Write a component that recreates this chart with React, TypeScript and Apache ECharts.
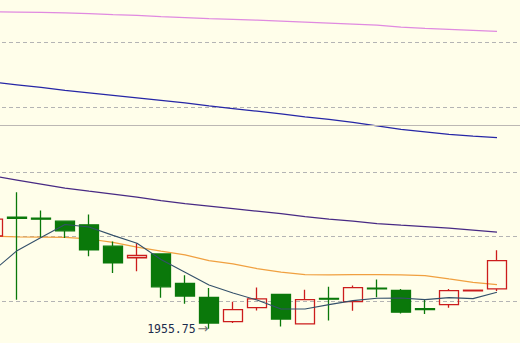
import React, { useEffect, useRef } from "react";
import * as echarts from "echarts";

const categories = [
  "D01", "D02", "D03", "D04", "D05", "D06", "D07", "D08", "D09", "D10", "D11",
  "D12", "D13", "D14", "D15", "D16", "D17", "D18", "D19", "D20", "D21", "D22", "D23",
];

const opens = [
  1970.1, 1973.0, 1972.85, 1972.4, 1971.83, 1968.53, 1966.74, 1967.32, 1962.79, 1960.62, 1956.85,
  1959.02, 1961.09, 1956.51, 1960.45, 1959.97, 1962.02, 1961.71, 1958.85, 1959.49, 1961.62, 1961.94,
];
const closes = [
  1972.7, 1972.85, 1972.7, 1970.9, 1967.95, 1965.94, 1967.09, 1962.25, 1960.82, 1956.64, 1958.71,
  1960.39, 1957.26, 1960.26, 1960.33, 1962.12, 1961.92, 1958.33, 1958.74, 1961.67, 1961.72, 1966.31,
];
const lows = [
  1969.6, 1960.26, 1969.92, 1969.8, 1966.98, 1964.39, 1964.65, 1960.54, 1959.64, 1955.75, 1956.64,
  1958.6, 1956.12, 1956.51, 1957.02, 1958.56, 1960.62, 1958.11, 1958.06, 1958.99, 1961.62, 1961.58,
];
const highs = [
  1973.2, 1976.85, 1974.06, 1972.4, 1973.44, 1969.26, 1968.99, 1967.32, 1964.03, 1962.06, 1959.95,
  1962.12, 1961.09, 1961.78, 1962.25, 1962.43, 1963.38, 1961.91, 1960.36, 1961.91, 1961.72, 1967.91,
];

const maFast = [
  1964.68, 1967.83, 1969.88, 1971.89, 1971.5, 1970.2, 1968.99, 1966.47, 1964.5, 1962.53, 1961.29,
  1960.2, 1958.81, 1958.81, 1959.49, 1960.11, 1960.47, 1960.51, 1960.26, 1960.57, 1960.42, 1961.4,
];
const maOrange = [
  1970.08, 1969.95, 1969.92, 1969.89, 1969.64, 1969.1, 1968.37, 1967.75, 1967.18, 1966.31, 1965.78,
  1965.07, 1964.5, 1964.14, 1964.08, 1964.14, 1964.14, 1964.08, 1963.98, 1963.46, 1962.95, 1962.59,
];
const maPurple = [
  1979.38, 1978.76, 1978.14, 1977.52, 1977.05, 1976.59, 1976.12, 1975.58, 1975.12, 1974.73, 1974.34,
  1973.95, 1973.57, 1973.1, 1972.71, 1972.4, 1972.02, 1971.78, 1971.55, 1971.32, 1971.01, 1970.7,
];
const maBlue = [
  1993.88, 1993.49, 1993.1, 1992.64, 1992.25, 1991.86, 1991.47, 1991.09, 1990.7, 1990.23, 1989.81,
  1989.41, 1988.99, 1988.53, 1988.14, 1987.67, 1987.13, 1986.59, 1986.2, 1985.81, 1985.53, 1985.32,
];
const maPink = [
  2004.78, 2004.73, 2004.68, 2004.62, 2004.5, 2004.34, 2004.22, 2004.03, 2003.88, 2003.72, 2003.6,
  2003.47, 2003.33, 2003.18, 2003.02, 2002.87, 2002.71, 2002.4, 2002.2, 2002.05, 2001.89, 2001.75,
];

const levelLine = 1987.29;
const lowMarkIndex = 9;
const lowMarkValue = 1955.75;
const yMin = 1950;
const yMax = 2010;
const yStep = 10;

export default function App() {
  const ref = useRef<HTMLDivElement>(null);
  useEffect(() => {
    document.body.style.margin = "0";
    if (!ref.current) return;
    const chart = echarts.init(ref.current, null, { renderer: "svg" });
    const candleData = opens.map((o, i) => [o, closes[i], lows[i], highs[i]]);
    const line = (data: number[], color: string, width = 1.25) => ({
      type: "line",
      data,
      symbol: "none",
      lineStyle: { color, width },
      silent: true,
      z: 1,
    });
    chart.setOption({
      animation: false,
      backgroundColor: "#fffeea",
      grid: { left: 0, right: 0, top: 0, bottom: 0 },
      xAxis: {
        type: "category",
        data: categories,
        boundaryGap: true,
        axisLine: { show: false },
        axisTick: { show: false },
        axisLabel: { show: false },
        splitLine: { show: false },
      },
      yAxis: {
        type: "value",
        min: yMin,
        max: yMax,
        interval: yStep,
        axisLine: { show: false },
        axisTick: { show: false },
        axisLabel: { show: false },
        splitLine: { show: true, lineStyle: { color: "#b4b4b4", type: [4, 3], width: 1 } },
      },
      series: [
        line(maPink, "#e08ae0"),
        line(maBlue, "#2626a6"),
        line(maPurple, "#482a84"),
        line(maOrange, "#f0a040"),
        {
          type: "candlestick",
          data: candleData,
          barWidth: 20,
          z: 2,
          itemStyle: {
            color: "rgba(0,0,0,0)",
            color0: "#0a780a",
            borderColor: "#cc1c1c",
            borderColor0: "#0a780a",
            borderWidth: 1.3,
          },
          markLine: {
            silent: true,
            symbol: "none",
            label: { show: false },
            lineStyle: { color: "#bcb8b4", type: "solid", width: 1 },
            data: [{ yAxis: levelLine }],
          },
          markPoint: {
            symbol: "circle",
            symbolSize: 1,
            itemStyle: { color: "rgba(0,0,0,0)" },
            label: {
              show: true,
              position: "left",
              distance: 0,
              formatter: "{a|" + lowMarkValue.toFixed(2) + "}{b|→}",
              rich: {
                a: { fontFamily: "DejaVu Sans Mono", fontSize: 11.5, color: "#1c2c4c" },
                b: { fontFamily: "DejaVu Sans", fontSize: 13, color: "#707070", padding: [0, 0, 0, 2] },
              },
            },
            data: [{ coord: [categories[lowMarkIndex], lowMarkValue] }],
          },
        },
        { ...line(maFast, "#34506a", 1.1), z: 3 },
      ],
    });
    return () => chart.dispose();
  }, []);
  return (
    <div style={{ position: "relative", width: 520, height: 343, overflow: "hidden", background: "#fffeea" }}>
      <div ref={ref} style={{ position: "absolute", left: -19, top: -22, width: 552, height: 388 }} />
    </div>
  );
}
